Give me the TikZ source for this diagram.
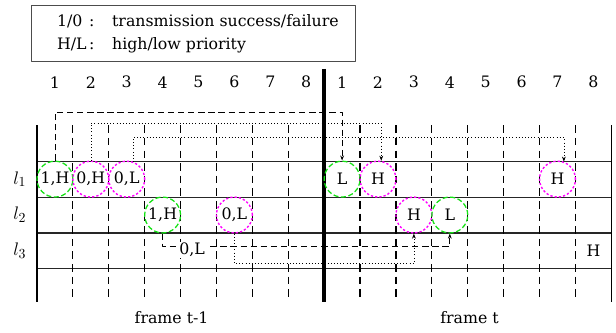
\documentclass[tikz,border=0pt]{standalone}
\usepackage{fontspec}
\setmainfont{DejaVu Serif}
\usetikzlibrary{arrows.meta}
\definecolor{okgreen}{RGB}{20,225,20}
\definecolor{errpink}{RGB}{255,0,255}
\tikzset{
  slotline/.style={line width=0.9pt, dash pattern=on 6pt off 4pt},
  okslot/.style={circle, draw=okgreen, line width=1pt, dash pattern=on 4pt off 2pt, minimum size=1cm, inner sep=0pt},
  errslot/.style={circle, draw=errpink, line width=1.1pt, dash pattern=on 1.8pt off 1.6pt, minimum size=1cm, inner sep=0pt},
  retx/.style={->, dash pattern=on 5pt off 3pt, line width=0.5pt},
  retxdot/.style={->, dotted, line width=0.5pt},
  linklabel/.style={font=\fontsize{15}{18}\selectfont},
}
\begin{document}
\begin{tikzpicture}[line join=round, >={Stealth[length=4pt,width=3pt]}, font=\fontsize{12.5}{18.5}\selectfont]
\useasboundingbox (-1.03,-1.78) rectangle (16.13,7.49);
\node[draw=black!70, line width=0.6pt, minimum width=9.03cm, minimum height=1.56cm] (legendbox) at (4.35,6.57) {};
\node[anchor=west, inner sep=0pt] (legend) at ([xshift=0.73cm]legendbox.west) {\begin{tabular}{@{}l@{\hspace{2pt}:\hspace{14pt}}l@{}}
1/0\, & transmission success/failure\\
H/L & high/low priority
\end{tabular}};
\foreach \s in {1,...,8} {
  \node (p\s) at (\s-0.5,5.2) {\s};
  \node (q\s) at (\s+7.5,5.2) {\s};
}
\foreach \y in {0,1,2,3} \draw[line width=0.9pt, black!85] (0,\y) -- (16,\y);
\foreach \x in {1,...,7,9,10,...,15} \draw[slotline] (\x,4) -- (\x,-0.92);
\draw[line width=1pt] (0,4) -- (0,-0.92);
\draw[line width=1pt] (16,4) -- (16,-0.92);
\draw[line width=3.5pt] (8,5.57) -- (8,-0.92);
\node[linklabel] (r1) at (-0.48,2.5) {$l_1$};
\node[linklabel] (r2) at (-0.48,1.5) {$l_2$};
\node[linklabel] (r3) at (-0.48,0.5) {$l_3$};
\node[okslot] (a1) at (0.5,2.5) {1,H};
\node[errslot] (a2) at (1.5,2.5) {0,H};
\node[errslot] (a3) at (2.5,2.5) {0,L};
\node[okslot] (b4) at (3.5,1.5) {1,H};
\node[errslot] (b6) at (5.5,1.5) {0,L};
\node[okslot] (d1) at (8.5,2.5) {L};
\node[errslot] (d2) at (9.5,2.5) {H};
\node[errslot] (d7) at (14.5,2.5) {H};
\node[errslot] (e3) at (10.5,1.5) {H};
\node[okslot] (e4) at (11.5,1.5) {L};
\node (f8) at (15.5,0.5) {H};
\draw[retx] (a1.north) -- ++(0,1.35) -| (d1.north);
\draw[retxdot] (a2.north) -- ++(0,1.04) -| (d2.80);
\draw[retxdot] (a3.70) -- ++(0,0.68) -| (d7.70);
\draw[retx] (b4.south) -- ++(0,-0.36) -| (e4.south);
\draw[retxdot] (b6.south) -- ++(0,-0.83) -| (e3.south);
\node[fill=white, inner sep=1pt] (c5) at (4.32,0.53) {0,L};
\node (fr1) at (3.75,-1.36) {frame t-1};
\node (fr2) at (12.05,-1.36) {frame t};
\end{tikzpicture}
\end{document}
